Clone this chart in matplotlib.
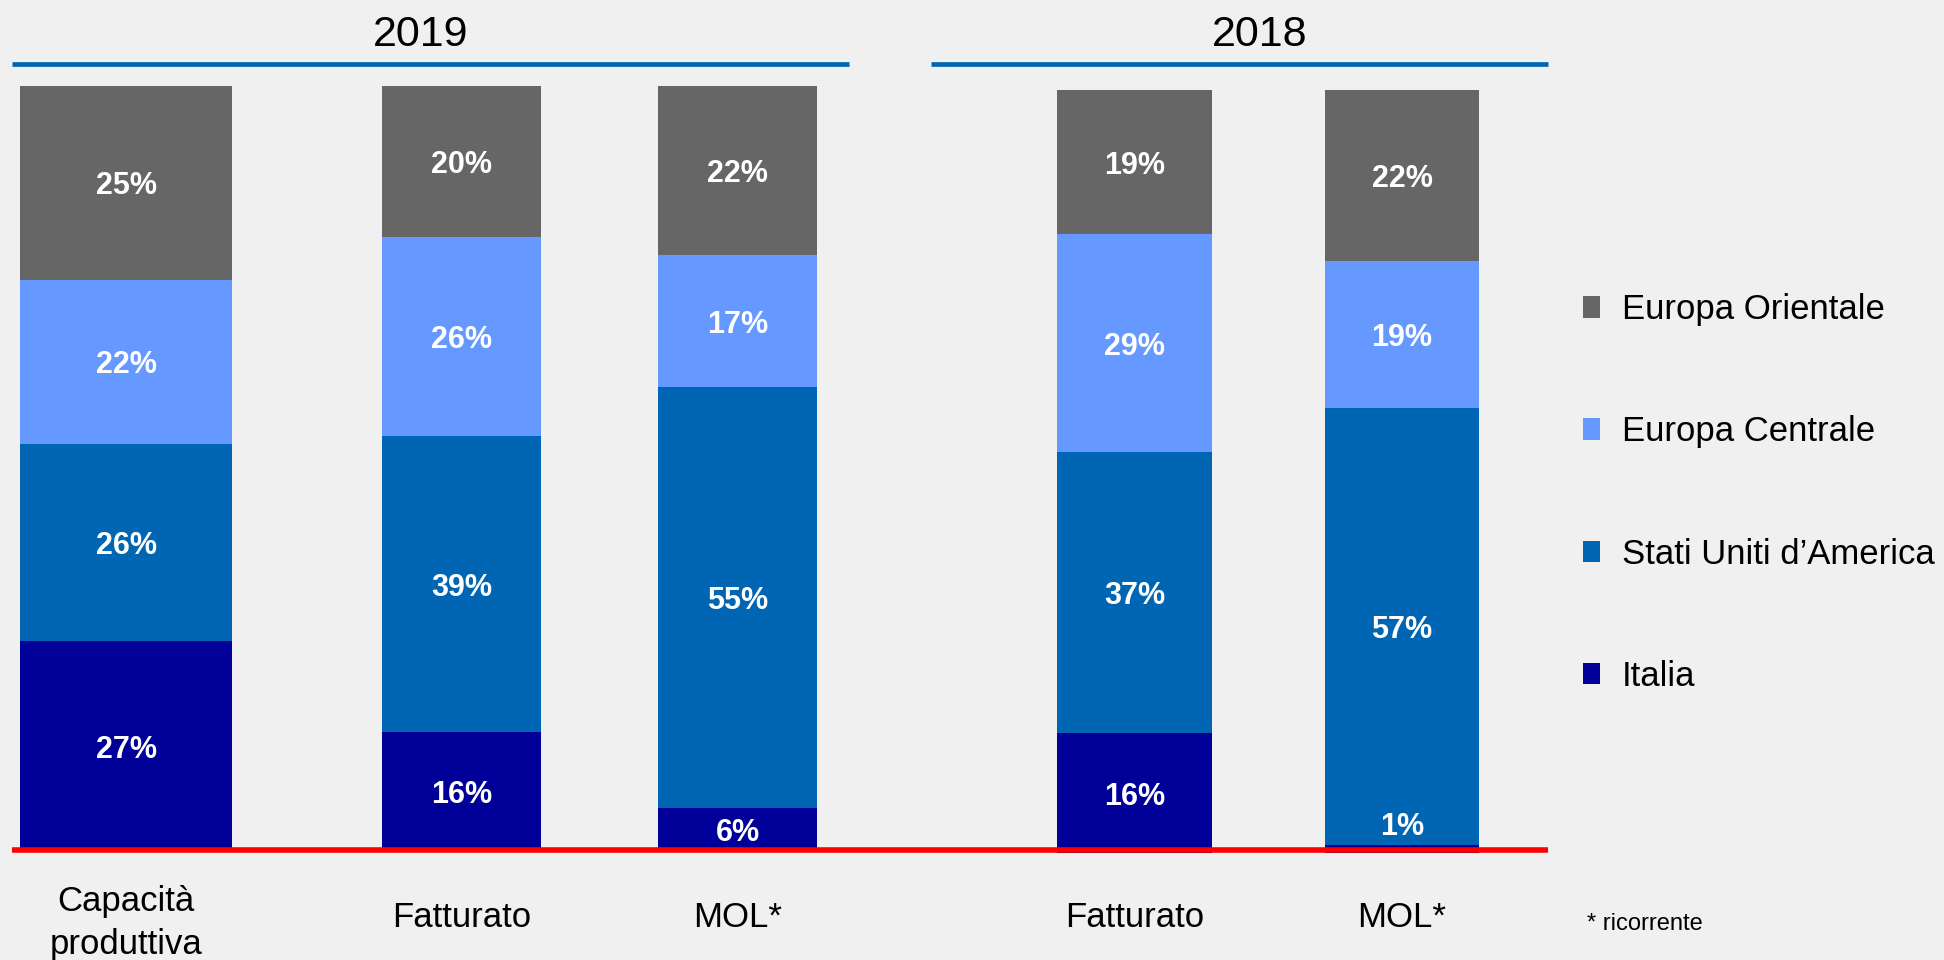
import matplotlib
matplotlib.use("Agg")
import matplotlib.pyplot as plt
from matplotlib.lines import Line2D
import numpy as np

plt.rcParams['font.family'] = ['Liberation Sans', 'DejaVu Sans']

# ---- data (shares in %; labels show rounded values) ----
categories = ["Capacità\nproduttiva", "Fatturato", "MOL*", "Fatturato", "MOL*"]
category_year = ["2019", "2019", "2019", "2018", "2018"]
years = ["2019", "2018"]
series_names = ["Italia", "Stati Uniti d’America", "Europa Centrale", "Europa Orientale"]
italia = [27.4, 15.6, 5.6, 15.7, 1.0]
usa = [25.8, 38.6, 55.0, 36.8, 57.3]
europa_centrale = [21.5, 26.1, 17.3, 28.6, 19.3]
europa_orientale = [25.3, 19.7, 22.1, 18.9, 22.4]
footnote = "* ricorrente"

series = [italia, usa, europa_centrale, europa_orientale]
colors = ["#000099", "#0066B3", "#6699FF", "#666666"]

# ---- layout (pixel units of the 1944x960 canvas) ----
W, H = 1944, 960
centers = [126, 461.5, 737.5, 1134.4, 1402]
widths = [212, 159, 159, 155, 154]
# vertical extent (bottom px, top px) of the 0..100 scale for each year group
year_extent = {"2019": (851, 86), "2018": (853, 90)}

fig = plt.figure(figsize=(W / 100, H / 100), dpi=100)
fig.patch.set_facecolor("#F0F0F0")

axes = {}
for yr in years:
    yb, yt = year_extent[yr]
    ax = fig.add_axes([0, 1 - yb / H, 1, (yb - yt) / H])
    ax.set_facecolor("none")
    ax.set_xlim(0, W)
    ax.set_ylim(0, 100)
    ax.axis("off")
    axes[yr] = ax

legend_handles = [None] * len(series_names)
for yr in years:
    ax = axes[yr]
    idx = [i for i, y in enumerate(category_year) if y == yr]
    xs = [centers[i] for i in idx]
    ws = [widths[i] for i in idx]
    bottom = np.zeros(len(idx))
    for k, (name, vals, col) in enumerate(zip(series_names, series, colors)):
        v = np.array([vals[i] for i in idx], dtype=float)
        c = ax.bar(xs, v, width=ws, bottom=bottom, color=col, label=name,
                   zorder=2)
        legend_handles[k] = c
        for x, b, val in zip(xs, bottom, v):
            ymid = b + val / 2 if val >= 3 else b + 3.9
            ax.text(x, ymid, f"{val:.0f}%", ha="center", va="center_baseline",
                    color="white", fontsize=22, fontweight="bold", zorder=4)
        bottom += v

# red baseline
fig.add_artist(Line2D([12 / W, 1548 / W], [1 - 849.5 / H, 1 - 849.5 / H],
                      transform=fig.transFigure, color="#FF0000", lw=4,
                      solid_capstyle="butt", zorder=5))

# category labels
for x, lab in zip(centers, categories):
    if "\n" in lab:
        fig.text(x / W, 1 - 923 / H, lab, ha="center", va="center",
                 fontsize=25, linespacing=1.36)
    else:
        fig.text(x / W, 1 - 914 / H, lab, ha="center", va="center_baseline",
                 fontsize=25)

# year headers
for (x1, x2), xc, yr in zip([(12, 849), (931, 1548)], [421, 1260], years):
    fig.add_artist(Line2D([x1 / W, x2 / W], [1 - 64.3 / H, 1 - 64.3 / H],
                          transform=fig.transFigure, color="#0066B3", lw=3.4,
                          solid_capstyle="butt"))
    fig.text(xc / W, 1 - 31 / H, yr, ha="center", va="center_baseline",
             fontsize=31)

# footnote
fig.text(1587 / W, 1 - 921 / H, footnote, ha="left", va="center_baseline",
         fontsize=17)

# legend
fig.legend(handles=legend_handles[::-1], labels=series_names[::-1],
           loc="center left", bbox_to_anchor=(1583 / W, 1 - 493 / H),
           frameon=False, fontsize=25, handlelength=0.49,
           handleheight=0.58, handletextpad=0.63, labelspacing=2.57,
           borderpad=0, borderaxespad=0)

fig.savefig("out.png", dpi=100, facecolor=fig.get_facecolor())
